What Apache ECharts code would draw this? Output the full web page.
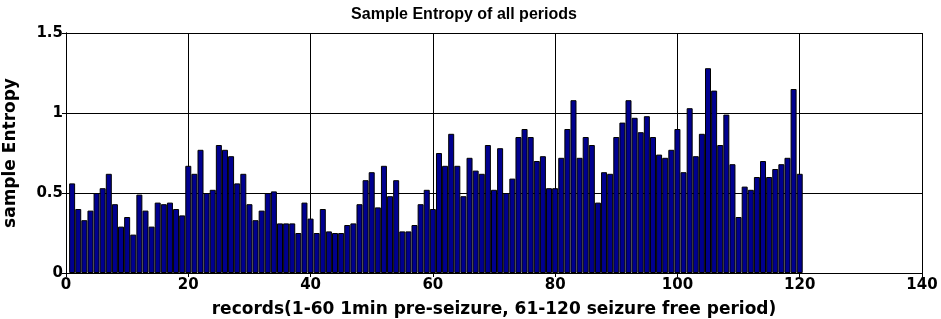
<!DOCTYPE html>
<html>
<head>
<meta charset="utf-8">
<script src="https://cdn.jsdelivr.net/npm/echarts@6/dist/echarts.min.js"></script>
<style>
  html, body { margin: 0; padding: 0; background: #fff; }
  #chart { width: 941px; height: 319px; }
</style>
</head>
<body>
<div id="chart"></div>
<script>
// record numbers 1..120 and their sample entropy
const records = [
  1, 2, 3, 4, 5, 6, 7, 8, 9, 10, 11, 12, 13, 14, 15, 16, 17, 18, 19, 20,
  21, 22, 23, 24, 25, 26, 27, 28, 29, 30, 31, 32, 33, 34, 35, 36, 37, 38, 39, 40,
  41, 42, 43, 44, 45, 46, 47, 48, 49, 50, 51, 52, 53, 54, 55, 56, 57, 58, 59, 60,
  61, 62, 63, 64, 65, 66, 67, 68, 69, 70, 71, 72, 73, 74, 75, 76, 77, 78, 79, 80,
  81, 82, 83, 84, 85, 86, 87, 88, 89, 90, 91, 92, 93, 94, 95, 96, 97, 98, 99, 100,
  101, 102, 103, 104, 105, 106, 107, 108, 109, 110, 111, 112, 113, 114, 115, 116, 117, 118, 119, 120
];
const entropy = [
  0.56, 0.40, 0.33, 0.39, 0.50, 0.53, 0.62, 0.43, 0.29, 0.35,
  0.24, 0.49, 0.39, 0.29, 0.44, 0.43, 0.44, 0.40, 0.36, 0.67,
  0.62, 0.77, 0.50, 0.52, 0.80, 0.77, 0.73, 0.56, 0.62, 0.43,
  0.33, 0.39, 0.50, 0.51, 0.31, 0.31, 0.31, 0.25, 0.44, 0.34,
  0.25, 0.40, 0.26, 0.25, 0.25, 0.30, 0.31, 0.43, 0.58, 0.63,
  0.41, 0.67, 0.48, 0.58, 0.26, 0.26, 0.30, 0.43, 0.52, 0.40,
  0.75, 0.67, 0.87, 0.67, 0.48, 0.72, 0.64, 0.62, 0.80, 0.52,
  0.78, 0.50, 0.59, 0.85, 0.90, 0.85, 0.70, 0.73, 0.53, 0.53,
  0.72, 0.90, 1.08, 0.72, 0.85, 0.80, 0.44, 0.63, 0.62, 0.85,
  0.94, 1.08, 0.97, 0.88, 0.98, 0.85, 0.74, 0.72, 0.77, 0.90,
  0.63, 1.03, 0.73, 0.87, 1.28, 1.14, 0.80, 0.99, 0.68, 0.35,
  0.54, 0.52, 0.60, 0.70, 0.60, 0.65, 0.68, 0.72, 1.15, 0.62
];
const xTicks = { min: 0, max: 140, interval: 20 };
const yTicks = { min: 0, max: 1.5, interval: 0.5 };

const arial = 'Arial, "Liberation Sans", sans-serif';
const wide = '"DejaVu Sans", Verdana, sans-serif';
const chart = echarts.init(document.getElementById('chart'));

const boxAxis = {
  axisLine: { show: true, lineStyle: { color: '#000', width: 1 } },
  axisTick: { show: true, inside: true, length: 4, lineStyle: { color: '#000' } },
  axisLabel: { show: false },
  splitLine: { show: false }
};

chart.setOption({
  animation: false,
  backgroundColor: '#fff',
  title: {
    text: 'Sample Entropy of all periods',
    left: 459, textAlign: 'center', top: 2,
    textStyle: { fontFamily: arial, fontWeight: 'bold', fontSize: 16, color: '#000' }
  },
  grid: { left: 66, right: 19, top: 33, bottom: 46, outerBoundsMode: 'none', containLabel: false },
  xAxis: [{
    type: 'value', min: xTicks.min, max: xTicks.max, interval: xTicks.interval,
    name: 'records(1-60 1min pre-seizure, 61-120 seizure free period)',
    nameLocation: 'middle', nameGap: 28,
    nameTextStyle: { fontFamily: wide, fontWeight: 'bold', fontSize: 17, color: '#000' },
    axisLine: { show: true, onZero: false, lineStyle: { color: '#000', width: 1 } },
    axisTick: { show: true, inside: true, length: 4, lineStyle: { color: '#000' } },
    axisLabel: { fontFamily: wide, fontWeight: 'bold', fontSize: 15, color: '#000', margin: 5 },
    splitLine: { show: true, lineStyle: { color: '#000', width: 1 } }
  }, Object.assign({
    type: 'value', position: 'top', min: xTicks.min, max: xTicks.max, interval: xTicks.interval
  }, boxAxis)],
  yAxis: [{
    type: 'value', min: yTicks.min, max: yTicks.max, interval: yTicks.interval,
    name: 'sample Entropy',
    nameLocation: 'middle', nameGap: 47,
    nameTextStyle: { fontFamily: wide, fontWeight: 'bold', fontSize: 17, color: '#000' },
    axisLine: { show: true, lineStyle: { color: '#000', width: 1 } },
    axisTick: { show: true, inside: true, length: 4, lineStyle: { color: '#000' } },
    axisLabel: { fontFamily: wide, fontWeight: 'bold', fontSize: 15, color: '#000', margin: 3 },
    splitLine: { show: true, lineStyle: { color: '#000', width: 1 } }
  }, Object.assign({
    type: 'value', position: 'right', min: yTicks.min, max: yTicks.max, interval: yTicks.interval
  }, boxAxis)],
  series: [{
    type: 'bar',
    data: records.map((r, i) => [r, entropy[i]]),
    barWidth: 6,
    itemStyle: { color: '#00008f', borderColor: '#000', borderWidth: 1 }
  }]
});
</script>
</body>
</html>
